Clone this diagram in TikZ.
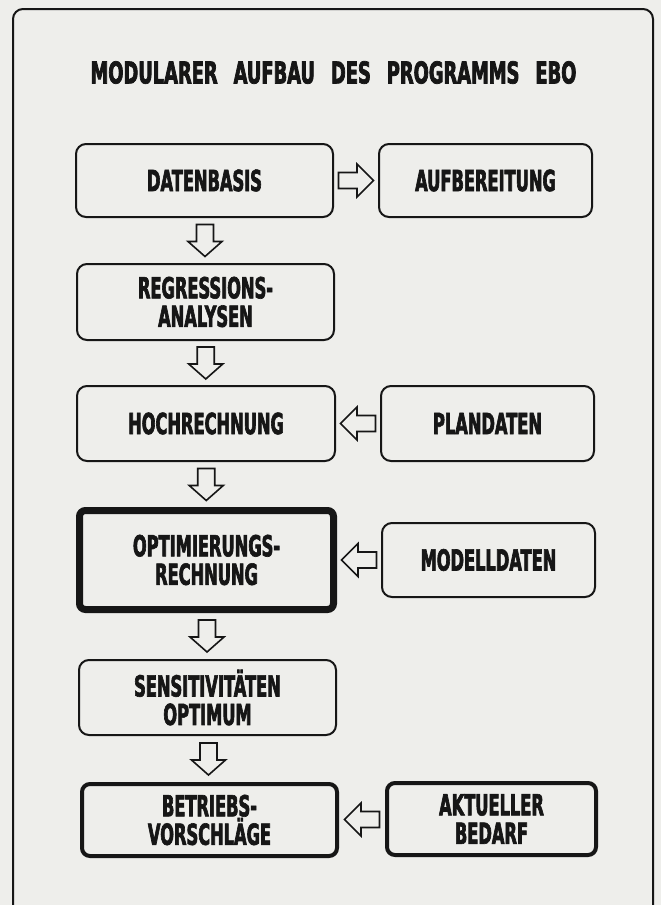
\documentclass[tikz,border=0pt]{standalone}
\usepackage{fontspec}
\newfontfamily\cf{DejaVu Sans}[FakeStretch=0.56, FakeBold=2.2]
\newfontfamily\tf{DejaVu Sans}[FakeStretch=0.595, FakeBold=2.4]
\usetikzlibrary{calc}
\definecolor{paper}{RGB}{238,238,235}
\definecolor{ink}{RGB}{22,22,22}
\begin{document}
\begin{tikzpicture}[x=1pt,y=-1pt,
  box/.style={draw=ink, line width=2pt, rounded corners=10pt, align=center,
    inner sep=0pt, text=ink, font=\cf\bfseries\fontsize{29}{28.5}\selectfont},
  heavybox/.style={box, line width=7pt, rounded corners=6pt},
  boldbox/.style={box, line width=4pt, rounded corners=8pt},
  arrline/.style={draw=ink, line width=1.6pt, fill=paper, line join=miter},
  darr/.pic={\path[arrline] (-8.5,-16) -- (8.5,-16) -- (8.5,1) -- (17,1) -- (0,16) -- (-17,1) -- (-8.5,1) -- cycle;},
  rarr/.pic={\path[arrline] (-17.5,-8) -- (1,-8) -- (1,-16.5) -- (17.5,0) -- (1,16.5) -- (1,8) -- (-17.5,8) -- cycle;},
  larr/.pic={\path[arrline] (17.5,-8) -- (-1,-8) -- (-1,-16.5) -- (-17.5,0) -- (-1,16.5) -- (-1,8) -- (17.5,8) -- cycle;}
]
\fill[paper] (0,0) rectangle (661,905);
\useasboundingbox (0,0) rectangle (661,905);
\draw[ink, line width=2pt, rounded corners=10pt] (13,915) -- (13,9) -- (653,9) -- (653,915);

\node[text=ink, font=\tf\bfseries\fontsize{30}{30}\selectfont, inner sep=0pt] (title) at (333.5,72.5)
  {MODULARER\hspace{16pt}AUFBAU\hspace{16pt}DES\hspace{16pt}PROGRAMMS\hspace{16pt}EBO};

\node[box, minimum width=257, minimum height=73] (daten) at (204.5,180.5) {DATENBASIS};
\node[box, minimum width=213, minimum height=73] (aufb) at (485.5,180.5) {AUFBEREITUNG};
\node[box, minimum width=257, minimum height=76] (regr) at (205.5,302) {REGRESSIONS-\\ANALYSEN};
\node[box, minimum width=258, minimum height=75] (hoch) at (206,423.5) {HOCHRECHNUNG};
\node[box, minimum width=213, minimum height=75] (plan) at (487.5,423.5) {PLANDATEN};
\node[heavybox, minimum width=254, minimum height=99] (opt) at (206.5,560) {OPTIMIERUNGS-\\RECHNUNG};
\node[box, minimum width=213, minimum height=74] (model) at (488.5,560) {MODELLDATEN};
\node[box, minimum width=257, minimum height=75] (sens) at (207.5,697.5) {SENSITIVITÄTEN\\OPTIMUM};
\node[boldbox, minimum width=255, minimum height=72] (betr) at (209.5,820) {BETRIEBS-\\VORSCHLÄGE};
\node[boldbox, minimum width=209, minimum height=72] (akt) at (491.5,819) {AKTUELLER\\BEDARF};

\path ($(daten.east)!0.5!(aufb.west)$) pic {rarr};
\path ($(daten.south)!0.5!(regr.north)$) pic {darr};
\path ($(regr.south)!0.5!(hoch.north)$) pic {darr};
\path ($(plan.west)!0.5!(hoch.east)$) pic {larr};
\path ($(hoch.south)!0.5!(opt.north)$) pic {darr};
\path ($(model.west)!0.5!(opt.east)$) pic {larr};
\path ($(opt.south)!0.5!(sens.north)$) pic {darr};
\path ($(sens.south)!0.5!(betr.north)$) pic {darr};
\path ($(akt.west)!0.5!(betr.east)$) pic {larr};
\end{tikzpicture}
\end{document}
